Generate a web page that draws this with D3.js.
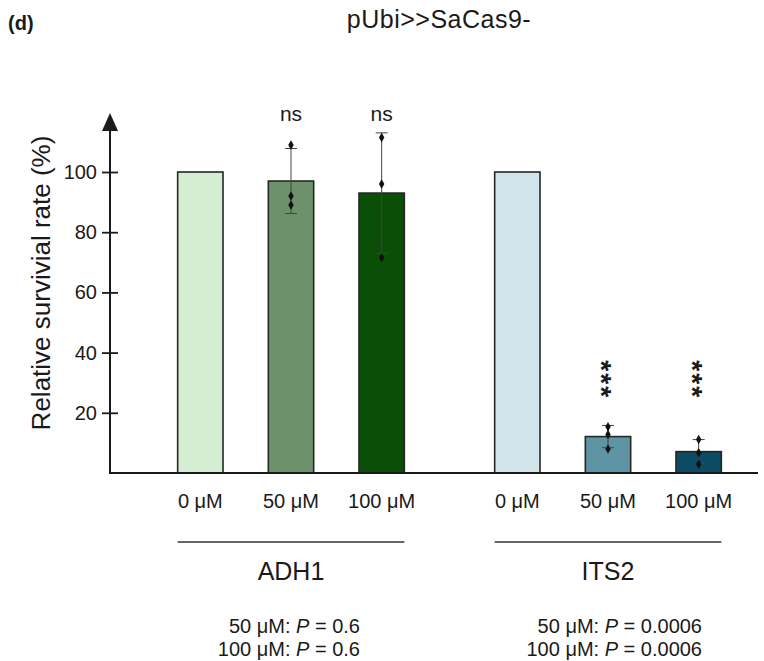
<!DOCTYPE html>
<html>
<head>
<meta charset="utf-8">
<script src="https://cdn.jsdelivr.net/npm/d3@7"></script>
<style>
  body { margin: 0; background: #fff; }
  svg text { font-family: "Liberation Sans", Arial, sans-serif; fill: #1a1a1a; }
</style>
</head>
<body>
<div id="chart"></div>
<script>
// data
var groups = ["ADH1", "ITS2"];
var doses = ["0 μM", "50 μM", "100 μM"];
var adh1Means = [100, 97, 93];
var adh1Sd = [0, 10.8, 20];
var adh1Points = [[], [109, 92, 89], [111.5, 96, 71.5]];
var its2Means = [100, 12.1, 7.1];
var its2Sd = [0, 3.7, 4.0];
var its2Points = [[], [15.4, 12.8, 8.0], [11.1, 6.7, 2.9]];
var adh1Sig = ["", "ns", "ns"];
var its2Sig = ["", "***", "***"];
var pDoses = ["50 μM", "100 μM"];
var adh1P = ["0.6", "0.6"];
var its2P = ["0.0006", "0.0006"];
var yTicks = [20, 40, 60, 80, 100];
var adh1Colors = ["#d5edd3", "#6d926b", "#0b4e08"];
var its2Colors = ["#d1e5ea", "#5f94a5", "#0b4b63"];

var width = 764, height = 661;
var svg = d3.select("#chart").append("svg")
  .attr("width", width).attr("height", height);

var rows = [];
groups.forEach(function(g, gi) {
  var means = gi == 0 ? adh1Means : its2Means;
  var sds = gi == 0 ? adh1Sd : its2Sd;
  var pts = gi == 0 ? adh1Points : its2Points;
  var sig = gi == 0 ? adh1Sig : its2Sig;
  var cols = gi == 0 ? adh1Colors : its2Colors;
  doses.forEach(function(d, di) {
    rows.push({group: g, dose: d, mean: means[di], sd: sds[di], points: pts[di], sig: sig[di], color: cols[di]});
  });
});

// scales
var y = d3.scaleLinear().domain([0, 100]).range([473, 172]);
var xOuter = d3.scaleBand().domain(groups).range([155, 744]).paddingInner(0.142);
var xInner = d3.scaleBand().domain(doses).range([0, xOuter.bandwidth()]).paddingInner(0.5).paddingOuter(0.25);
function bx(d) { return xOuter(d.group) + xInner(d.dose); }
function cx(d) { return bx(d) + xInner.bandwidth() / 2; }

var axisX = 110;

// panel letter + title
svg.append("text").attr("x", 8).attr("y", 30).attr("font-size", "20px").attr("font-weight", "bold").text("(d)");
svg.append("text").attr("x", 439).attr("y", 28).attr("text-anchor", "middle")
  .attr("font-size", "25px").attr("letter-spacing", "0.5px").text("pUbi>>SaCas9-");

// bars
svg.selectAll(".bar").data(rows).enter().append("rect")
  .attr("class", "bar")
  .attr("x", bx)
  .attr("y", function(d){ return y(d.mean); })
  .attr("width", xInner.bandwidth())
  .attr("height", function(d){ return y(0) - y(d.mean); })
  .attr("fill", function(d){ return d.color; })
  .attr("stroke", "#262626").attr("stroke-width", 1.6);

// error bars
var eb = rows.filter(function(d){ return d.sd > 0; });
var capW = 6;
var ebG = svg.append("g").attr("stroke", "#444").attr("stroke-width", 1);
ebG.selectAll(".v").data(eb).enter().append("line")
  .attr("x1", cx).attr("x2", cx)
  .attr("y1", function(d){ return y(d.mean + d.sd); })
  .attr("y2", function(d){ return y(d.mean - d.sd); });
ebG.selectAll(".t").data(eb).enter().append("line")
  .attr("x1", function(d){ return cx(d) - capW; }).attr("x2", function(d){ return cx(d) + capW; })
  .attr("y1", function(d){ return y(d.mean + d.sd); }).attr("y2", function(d){ return y(d.mean + d.sd); });
ebG.selectAll(".b").data(eb).enter().append("line")
  .attr("x1", function(d){ return cx(d) - capW; }).attr("x2", function(d){ return cx(d) + capW; })
  .attr("y1", function(d){ return y(d.mean - d.sd); }).attr("y2", function(d){ return y(d.mean - d.sd); });

// replicate points
var dots = [];
rows.forEach(function(d){ d.points.forEach(function(v){ dots.push({row: d, v: v}); }); });
svg.selectAll(".pt").data(dots).enter().append("path")
  .attr("d", d3.symbol(d3.symbolDiamond).size(26))
  .attr("transform", function(p){ return "translate(" + cx(p.row) + "," + y(p.v) + ")"; })
  .attr("fill", "#111");

// significance
svg.selectAll(".ns").data(rows.filter(function(d){ return d.sig == "ns"; })).enter().append("text")
  .attr("x", cx).attr("y", y(117)).attr("text-anchor", "middle").attr("font-size", "21px").text("ns");
// stacked asterisks: one text run turned to read downwards
var starRows = rows.filter(function(d){ return d.sig == "***"; });
svg.selectAll(".star").data(starRows).enter().append("text")
  .attr("transform", function(d){ return "translate(" + cx(d) + "," + (y(35.6) - 5.5) + ") rotate(90)"; })
  .attr("x", 0).attr("y", 16)
  .attr("font-size", "28px").attr("font-weight", "bold").attr("letter-spacing", "2px")
  .text(function(d){ return d.sig; });

// y axis with arrow
var yAxis = d3.axisLeft(y).tickValues(yTicks).tickSize(8).tickPadding(6);
var yG = svg.append("g").attr("transform", "translate(" + axisX + ",0)").call(yAxis);
yG.select(".domain").remove();
yG.selectAll(".tick line").attr("x2", 8).attr("x1", -8).attr("stroke", "#1a1a1a").attr("stroke-width", 1.8);
yG.selectAll(".tick text").attr("font-size", "20px").attr("font-family", "Liberation Sans, Arial, sans-serif").attr("fill", "#1a1a1a").attr("x", -13);
svg.append("line").attr("x1", axisX).attr("x2", axisX).attr("y1", y(0)).attr("y2", 128)
  .attr("stroke", "#1a1a1a").attr("stroke-width", 2);
svg.append("path").attr("d", "M" + axisX + ",113L" + (axisX - 8) + ",131L" + (axisX + 8) + ",131Z").attr("fill", "#1a1a1a");
svg.append("line").attr("x1", axisX - 1).attr("x2", 758).attr("y1", y(0)).attr("y2", y(0))
  .attr("stroke", "#1a1a1a").attr("stroke-width", 2);

svg.append("text").attr("transform", "translate(50,283) rotate(-90)").attr("text-anchor", "middle")
  .attr("font-size", "26px").text("Relative survivial rate (%)");

// dose labels
svg.selectAll(".dose").data(rows).enter().append("text")
  .attr("x", cx).attr("y", 508).attr("text-anchor", "middle").attr("font-size", "20px")
  .text(function(d){ return d.dose; });

// group lines + names
groups.forEach(function(g, gi) {
  var x0 = xOuter(g) + xInner(doses[0]);
  var x1 = xOuter(g) + xInner(doses[2]) + xInner.bandwidth();
  svg.append("line").attr("x1", x0).attr("x2", x1).attr("y1", 542).attr("y2", 542)
    .attr("stroke", "#333").attr("stroke-width", 1.3);
  svg.append("text").attr("x", (x0 + x1) / 2).attr("y", 580).attr("text-anchor", "middle")
    .attr("font-size", "25px").text(g);
  var pv = gi == 0 ? adh1P : its2P;
  var right = gi == 0 ? 360 : 702;
  pDoses.forEach(function(dd, i) {
    var t = svg.append("text").attr("x", right).attr("y", 633 + i * 23).attr("text-anchor", "end").attr("font-size", "20px");
    t.append("tspan").text(dd + ": ");
    t.append("tspan").attr("font-style", "italic").text("P");
    t.append("tspan").text(" = " + pv[i]);
  });
});
</script>
</body>
</html>
